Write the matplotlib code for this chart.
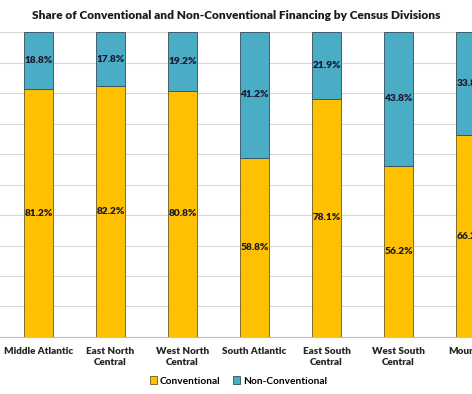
import numpy as np
import matplotlib
matplotlib.use("Agg")
import matplotlib.pyplot as plt
from matplotlib.patches import Patch

# Census divisions visible in the chart (values are shares, 0-1)
divisions = ["Middle Atlantic", "East North\nCentral", "West North\nCentral",
             "South Atlantic", "East South\nCentral", "West South\nCentral",
             "Mountain"]
conventional = [0.812, 0.822, 0.808, 0.588, 0.781, 0.562, 0.662]
non_conventional = [0.188, 0.178, 0.192, 0.412, 0.219, 0.438, 0.338]

YELLOW = "#FFC000"
BLUE = "#4BACC6"
TXT = "#1a1a2e"

plt.rcParams["font.family"] = ["Lato", "DejaVu Sans"]

fig = plt.figure(figsize=(4.72, 3.94), dpi=100)
ax = fig.add_axes([0.0, 0.1447, 1.0, 0.774])

x = np.arange(len(divisions))
ax.bar(x, conventional, width=0.4, color=YELLOW, edgecolor="#6b5a1e",
       linewidth=0.6, zorder=3)
ax.bar(x, non_conventional, width=0.4, bottom=conventional, color=BLUE,
       edgecolor="#2f4f5a", linewidth=0.6, zorder=3)

for xi, c, n in zip(x, conventional, non_conventional):
    ax.text(xi, c / 2, f"{c * 100:.1f}%", ha="center", va="center",
            fontsize=7.3, fontweight="heavy", color=TXT, zorder=4)
    ax.text(xi, c + n / 2, f"{n * 100:.1f}%", ha="center", va="center",
            fontsize=7.3, fontweight="heavy", color=TXT, zorder=4)

ax.set_xlim(-0.535, 6.02)
ax.set_ylim(0, 1)
ax.set_yticks(np.arange(0, 1.01, 0.1))
ax.set_yticklabels([])
ax.tick_params(axis="y", length=0)
ax.grid(axis="y", color="#d9d9d9", linewidth=0.8, zorder=0)
ax.set_xticks(x)
ax.set_xticklabels(divisions, fontsize=7.1, fontweight="heavy", color="#262626",
                   linespacing=1.3)
ax.tick_params(axis="x", length=0, pad=7)
for side in ["top", "right", "left"]:
    ax.spines[side].set_visible(False)
ax.spines["bottom"].set_color("#bfbfbf")
ax.spines["bottom"].set_linewidth(0.8)

fig.suptitle("Share of Conventional and Non-Conventional Financing by Census Divisions",
             x=0.5, y=0.975, fontsize=8.6, fontweight="heavy", color="#1a1a1a")

handles = [Patch(facecolor=YELLOW, edgecolor="#6b5a1e", linewidth=0.6),
           Patch(facecolor=BLUE, edgecolor="#2f4f5a", linewidth=0.6)]
fig.legend(handles, ["Conventional", "Non-Conventional"], loc="center",
           bbox_to_anchor=(0.505, 0.033), ncol=2, frameon=False,
           prop={"size": 7.3, "weight": "bold"},
           handlelength=0.7, handleheight=0.7, handletextpad=0.3,
           columnspacing=1.2)

fig.savefig("out.png", dpi=100)
